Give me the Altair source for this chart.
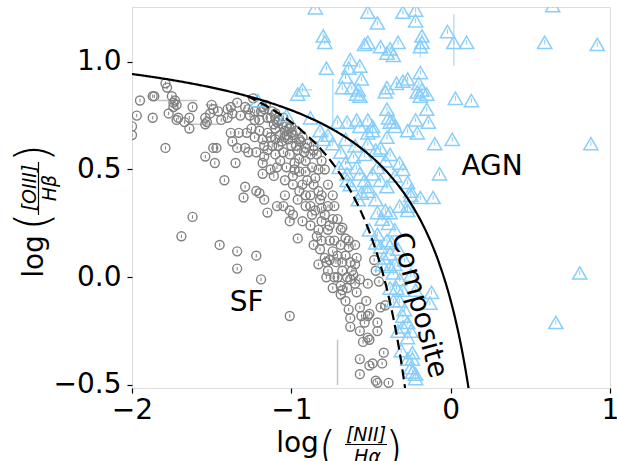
import altair as alt
import numpy as np
import pandas as pd

# ---- star-forming galaxies (grey circles) ----
sf_x = [-2.00, -2.00, -1.97, -1.95, -1.87, -1.87, -1.86, -1.79, -1.78, -1.79, -1.77, -1.75, -1.74, -1.73, -1.72, -1.74,
        -1.71, -1.72, -1.67, -1.64, -1.64, -1.62, -1.69, -1.62,
        -1.54, -1.53, -1.54, -1.51, -1.50, -1.49, -1.49, -1.47, -1.54, -1.48, -1.45,
        -1.46, -1.44, -1.40, -1.40, -1.38, -1.37, -1.34, -1.38, -1.33, -1.37, -1.34, -1.35, -1.42, -1.34, -1.34,
        -1.32, -1.29, -1.27, -1.26, -1.28, -1.25, -1.23, -1.20, -1.29, -1.27, -1.22, -1.18, -1.17, -1.29, -1.20, -1.22,
        -1.30, -1.22, -1.19,
        -1.18, -1.13, -1.11, -1.09, -1.15, -1.13, -1.17, -1.15, -1.09, -1.05, -1.01, -0.99, -1.01, -0.96, -1.01,
        -0.78, -0.71, -0.74, -0.68, -0.65, -0.63, -0.60, -0.57, -0.64, -0.63, -0.57, -0.56, -0.54, -0.52, -0.51, -0.46,
        -0.63, -0.57, -0.52, -0.51, -0.46, -0.55, -0.44, -0.41, -0.45, -0.47, -0.48, -0.57, -0.51, -0.49, -0.42, -0.43,
        -0.57, -0.47, -0.46, -0.39,
        -1.10, -1.07, -1.04, -1.08, -1.02, -1.00, -0.97, -1.05, -1.01, -0.96, -0.93, -0.91, -1.07, -1.03, -0.98, -0.95,
        -0.91, -0.88, -0.87, -1.04, -0.99, -0.95, -0.90, -0.85, -0.83, -0.96, -0.91, -0.88, -0.85, -0.82, -0.79, -0.93,
        -0.88, -0.83, -0.81, -0.77, -0.76, -0.86, -0.82, -0.79, -0.74, -0.72, -0.69, -0.83, -0.77, -0.73, -0.68, -0.66,
        -1.03, -1.08, -0.99, -0.94, -0.90, -0.86, -1.00, -0.81, -0.79, -0.77, -0.74, -0.73, -0.71, -0.69, -0.66, -0.64,
        -0.63, -0.62, -0.60, -0.84, -1.10, -1.03, -1.05, -1.13, -1.17, -1.20, -1.12, -1.16, -1.24,
        -1.12, -1.15, -1.06, -1.00, -0.95, -0.91, -0.86, -0.81, -0.77, -0.74, -0.81, -0.76, -0.71, -0.99, -0.93, -0.97,
        -1.10, -1.18, -1.23, -1.19, -1.09, -0.86, -0.83, -0.88, -0.68, -0.65, -0.60, -0.69, -0.59, -0.52, -0.53, -0.66,
        -1.23, -1.18, -1.15, -1.11, -1.08, -1.04, -1.01, -1.06, -1.10, -1.17, -0.95, -0.92, -0.98, -1.04, -0.91, -0.87,
        -0.81, -0.76, -0.84, -0.73, -0.78, -0.68, -0.64, -0.59, -0.61, -0.69]
sf_y = [0.70, 0.66, 0.75, 0.82, 0.74, 0.84, 0.84, 0.90, 0.88, 0.60, 0.76, 0.84, 0.81, 0.82, 0.80, 0.79,
        0.74, 0.73, 0.72, 0.74, 0.69, 0.79, 0.19, 0.28,
        0.74, 0.72, 0.71, 0.76, 0.80, 0.78, 0.60, 0.60, 0.56, 0.53, 0.15,
        0.77, 0.73, 0.78, 0.74, 0.79, 0.76, 0.81, 0.67, 0.67, 0.63, 0.60, 0.53, 0.45, 0.12, 0.04,
        0.75, 0.79, 0.78, 0.75, 0.67, 0.69, 0.65, 0.68, 0.60, 0.58, 0.58, 0.53, 0.56, 0.42, 0.39, 0.40,
        0.37, 0.10, -0.01,
        0.48, 0.50, 0.47, 0.51, 0.67, 0.65, 0.36, 0.30, 0.33, 0.33, 0.31, 0.29, 0.26, 0.18, -0.18,
        0.00, 0.00, -0.05, -0.06, -0.05, -0.01, -0.03, -0.01, -0.15, -0.19, -0.14, -0.18, -0.21, -0.18, -0.17, -0.21,
        -0.23, -0.25, -0.28, -0.29, -0.25, -0.30, -0.14, -0.13, -0.02, 0.03, 0.08, -0.38, -0.41, -0.40, -0.35, -0.40,
        -0.45, -0.48, -0.49, -0.49,
        0.69, 0.66, 0.68, 0.61, 0.64, 0.67, 0.61, 0.58, 0.57, 0.59, 0.65, 0.60, 0.54, 0.51, 0.53, 0.49,
        0.54, 0.57, 0.51, 0.45, 0.43, 0.40, 0.45, 0.46, 0.40, 0.36, 0.33, 0.38, 0.31, 0.36, 0.29, 0.26,
        0.24, 0.22, 0.26, 0.22, 0.17, 0.15, 0.13, 0.09, 0.12, 0.07, 0.15, 0.06, 0.03, 0.00, 0.03, 0.10,
        0.70, 0.73, 0.66, 0.63, 0.62, 0.61, 0.70, 0.54, 0.50, 0.43, 0.38, 0.33, 0.27, 0.22, 0.18, 0.14,
        0.07, 0.03, 0.15, 0.57, 0.76, 0.66, 0.74, 0.74, 0.78, 0.73, 0.77, 0.80, 0.83,
        0.61, 0.59, 0.71, 0.61, 0.55, 0.49, 0.43, 0.38, 0.33, 0.27, 0.17, 0.08, 0.10, 0.47, 0.43, 0.68,
        0.64, 0.64, 0.73, 0.77, 0.72, 0.59, 0.50, 0.33, 0.23, 0.00, 0.06, -0.04, -0.07, -0.03, -0.11, -0.11,
        0.77, 0.79, 0.74, 0.71, 0.73, 0.65, 0.69, 0.63, 0.57, 0.61, 0.64, 0.58, 0.50, 0.38, 0.38, 0.29,
        0.32, 0.24, 0.19, 0.17, 0.07, 0.07, 0.17, 0.09, 0.01, -0.08]

# ---- composite / AGN (light blue triangles) ----
agn_x = [-0.85, -0.52, -0.30, -0.22, -0.22, -0.46, 0.64, -0.80, -0.79, -0.52, -0.54, -0.44, -0.38, -0.33, -0.36, -0.40,
         -0.18, -0.19, -0.18, -0.02, 0.02, 0.10, 0.59, 0.92, -0.78, -0.63, -0.64, -0.57, -0.66, -0.68, -0.62, -0.58,
         -0.56, -0.57, -0.59, -0.93, -0.40, -0.41, -0.34, -0.30, -0.27, -0.20, -0.19, -0.21, -0.18, -0.15, -0.19, 0.03,
         0.13, -0.40, -0.39, -0.38, -0.36, -0.35, -0.22, -0.27, -0.21, -0.14, -0.15, -0.10, 0.01, 0.88, -0.40, -0.49,
         -0.52, -0.52, -0.52, -0.49, -0.71, -0.65, -0.59, -0.57, -0.88, -0.82, -0.77, -0.74, -0.80, -0.32, -0.30, -0.27,
         -0.25, -0.07, -0.69, -0.66, -0.61, -0.59, -0.57, -0.54, -0.52, -0.49, -0.46, -0.44, -0.40, -0.65, -0.70, -0.65,
         -1.21, -1.03, -0.96, 0.81, 0.66, -0.44, -0.38, -0.41,
         -0.56, -0.52, -0.25, -0.19, -0.11, -0.27, -0.27, -0.46, -0.38, -0.43, -0.39, -0.51, -0.46, -0.40, -0.37, -0.47,
         -0.44, -0.38, -0.42, -0.38, -0.36, -0.32, -0.34, -0.30, -0.38, -0.12, -0.13, -0.32, -0.29, -0.30, -0.27, -0.30,
         -0.25, -0.27, -0.24, -0.24, -0.25, -0.24, -0.22, -0.22, -0.35, -0.33, -0.29, -0.25, -0.22,
         -0.66, -0.60, -0.54, -0.47, -0.63, -0.58, -0.47, -0.35, -0.32, -0.41, -0.43, -0.35, -0.36, -0.33, -0.31, -0.27]
agn_y = [1.25, 1.23, 1.23, 1.24, 1.19, 1.18, 1.26, 1.12, 1.09, 1.09, 1.08, 1.07, 1.06, 1.09, 1.03, 1.04,
         1.09, 1.07, 1.12, 1.14, 1.09, 1.09, 1.09, 1.08, 0.97, 1.01, 0.97, 0.98, 0.93, 0.88, 0.88, 0.87,
         0.92, 0.84, 0.85, 0.87, 0.88, 0.86, 0.90, 0.91, 0.92, 0.90, 0.95, 0.86, 0.87, 0.85, 0.84, 0.83,
         0.82, 0.78, 0.74, 0.72, 0.72, 0.70, 0.73, 0.68, 0.67, 0.72, 0.78, 0.62, 0.64, 0.62, 0.65, 0.68,
         0.67, 0.62, 0.73, 0.70, 0.72, 0.72, 0.73, 0.70, 0.74, 0.68, 0.66, 0.62, 0.64, 0.53, 0.50, 0.44,
         0.40, 0.48, 0.58, 0.53, 0.56, 0.51, 0.48, 0.45, 0.42, 0.48, 0.51, 0.45, 0.42, 0.48, 0.51, 0.45,
         0.82, 0.75, 0.85, 0.02, -0.21, 0.60, 0.57, 0.54,
         0.39, 0.40, 0.38, 0.37, 0.37, 0.33, 0.31, 0.30, 0.30, 0.27, 0.25, 0.22, 0.20, 0.17, 0.16, 0.16,
         0.14, 0.11, 0.09, 0.05, 0.02, -0.01, -0.05, -0.06, -0.05, -0.07, -0.12, -0.11, -0.15, -0.18, -0.21, -0.23,
         -0.25, -0.28, -0.35, -0.38, -0.42, -0.44, -0.45, -0.47, 0.22, 0.13, 0.08, 0.01, -0.06,
         0.64, 0.61, 0.57, 0.59, 0.43, 0.36, 0.36, 0.47, 0.33, 0.31, 0.06, 0.06, -0.11, -0.25, -0.34, -0.38]

# ---- the larger error bars that stand out ----
sf_err_x1 = [-1.84, -1.65, -1.54, -1.21, -0.71]
sf_err_x2 = [-1.59, -1.45, -1.46, -1.21, -0.71]
sf_err_y1 = [0.82, 0.71, 0.80, 0.80, -0.29]
sf_err_y2 = [0.82, 0.71, 0.80, 0.70, -0.50]
agn_err_x1 = [-0.74, 0.02, -0.96, -0.19]
agn_err_x2 = [-0.74, 0.02, -0.87, -0.19]
agn_err_y1 = [0.92, 1.22, 0.87, 1.10]
agn_err_y2 = [0.68, 0.98, 0.87, 1.02]

# ---- demarcation lines: Kewley et al. 2001 (solid), Kauffmann et al. 2003 (dashed) ----
KEW_A, KEW_B, KEW_C = 0.61, 0.47, 1.19
KAU_A, KAU_B, KAU_C = 0.61, 0.05, 1.30
kew_x = np.linspace(-2.0, 0.12, 300)
kau_x = np.linspace(-1.28, -0.28, 200)
kew_df = pd.DataFrame({"x": kew_x, "y": KEW_A / (kew_x - KEW_B) + KEW_C})
kau_df = pd.DataFrame({"x": kau_x, "y": KAU_A / (kau_x - KAU_B) + KAU_C})

region_labels = ["SF", "AGN", "Composite"]
region_x = [-1.28, 0.26, -0.20]
region_y = [-0.12, 0.51, -0.13]
region_angle = [0, 0, 75]

FONT = "DejaVu Sans"
GREY = "#808080"
BLUE = "#87CEFA"

xs = alt.Scale(domain=[-2, 1], nice=False, zero=False)
ys = alt.Scale(domain=[-0.514, 1.254], nice=False, zero=False)
xaxis = alt.Axis(values=[-2, -1, 0, 1], format="d", title="", grid=False, domain=False,
                 labelFontSize=28, labelFont=FONT, labelColor="black", tickColor="black",
                 tickSize=5, tickWidth=1.2, labelPadding=3, labelFlush=False)
yaxis = alt.Axis(values=[-0.5, 0.0, 0.5, 1.0], format=".1f", title="", grid=False, domain=False,
                 labelFontSize=28, labelFont=FONT, labelColor="black", tickColor="black",
                 tickSize=5, tickWidth=1.2, labelPadding=6, labelFlush=False)

sf_df = pd.DataFrame({"x": sf_x, "y": sf_y})
agn_df = pd.DataFrame({"x": agn_x, "y": agn_y})
sf_err = pd.DataFrame({"x": sf_err_x1, "x2": sf_err_x2, "y": sf_err_y1, "y2": sf_err_y2})
agn_err = pd.DataFrame({"x": agn_err_x1, "x2": agn_err_x2, "y": agn_err_y1, "y2": agn_err_y2})

def pts(df):
    return alt.Chart(df).encode(x=alt.X("x:Q", scale=xs, axis=xaxis), y=alt.Y("y:Q", scale=ys, axis=yaxis))

sf_errbars = alt.Chart(sf_err).mark_rule(color="#c4c4c4", strokeWidth=1.5, clip=True).encode(
    x=alt.X("x:Q", scale=xs, axis=xaxis), x2="x2:Q", y=alt.Y("y:Q", scale=ys, axis=yaxis), y2="y2:Q")
agn_errbars = alt.Chart(agn_err).mark_rule(color="#b5e0fb", strokeWidth=1.5, clip=True).encode(
    x=alt.X("x:Q", scale=xs, axis=xaxis), x2="x2:Q", y=alt.Y("y:Q", scale=ys, axis=yaxis), y2="y2:Q")

sf_pts = pts(sf_df).mark_point(shape="circle", filled=False, color=GREY, size=80, strokeWidth=1.4,
                               opacity=1, clip=True)
sf_tick = pts(sf_df).mark_point(shape="M0,-1L0,1", filled=False, color=GREY, size=12, strokeWidth=1,
                                opacity=1, clip=True)
agn_pts = pts(agn_df).mark_point(shape="triangle-up", filled=False, color=BLUE, size=200, strokeWidth=1.5,
                                 opacity=1, clip=True)
agn_tick = pts(agn_df).mark_point(shape="M0,-1L0,1", filled=False, color=BLUE, size=20, strokeWidth=1,
                                  opacity=1, clip=True)

kew = alt.Chart(kew_df).mark_line(color="black", strokeWidth=2.2, clip=True).encode(
    x=alt.X("x:Q", scale=xs, axis=xaxis), y=alt.Y("y:Q", scale=ys, axis=yaxis))
kau = alt.Chart(kau_df).mark_line(color="black", strokeWidth=2.2, strokeDash=[10, 5], clip=True).encode(
    x=alt.X("x:Q", scale=xs, axis=xaxis), y=alt.Y("y:Q", scale=ys, axis=yaxis))

lab_df = pd.DataFrame({"t": region_labels, "x": region_x, "y": region_y, "a": region_angle})
labels = alt.Chart(lab_df).mark_text(fontSize=28, font=FONT, color="black", align="center",
                                     baseline="middle").encode(
    x=alt.X("x:Q", scale=xs, axis=xaxis), y=alt.Y("y:Q", scale=ys, axis=yaxis), text="t:N",
    angle=alt.Angle("a:Q", scale=None))

one = pd.DataFrame({"k": [0]})

def txt(s, x, y, size, angle=0, style="normal", baseline="alphabetic", weight=400):
    return alt.Chart(one).mark_text(text=s, fontSize=size, font=FONT, fontStyle=style, color="black",
                                    align="center", baseline=baseline, angle=angle,
                                    fontWeight=weight).encode(
        x=alt.value(x), y=alt.value(y))

def bar(x1, x2, y1, y2):
    return alt.Chart(one).mark_rule(color="black", strokeWidth=1.2).encode(
        x=alt.value(x1), x2=alt.value(x2), y=alt.value(y1), y2=alt.value(y2))

# x-axis title:  log( [NII] / Hα )
xt = [
    txt("log", 165.5, 445, 28),
    txt("(", 195.5, 443, 46, baseline="middle", weight=200),
    txt("[NII]", 234, 434, 19, style="italic"),
    bar(213, 255, 437.5, 437.5),
    txt("Hα", 235.5, 456, 19, style="italic"),
    txt(")", 262, 443, 46, baseline="middle", weight=200),
]
# y-axis title:  log( [OIII] / Hβ ), rotated
yt = [
    txt("log", -89, 249.5, 28, angle=270),
    txt("(", -98, 214.5, 46, angle=270, baseline="middle", weight=200),
    txt("[OIII]", -96, 181, 19, angle=270, style="italic"),
    bar(-93.5, -93.5, 155, 208),
    txt("Hβ", -76, 181, 19, angle=270, style="italic"),
    txt(")", -98, 146, 46, angle=270, baseline="middle", weight=200),
]

chart = alt.layer(sf_errbars, sf_pts, sf_tick, agn_errbars, agn_pts, agn_tick, kew, kau, labels, *xt, *yt).properties(
    width=478, height=381,
    autosize=alt.AutoSizeParams(type="none"),
    padding={"left": 132, "top": 7, "right": 7, "bottom": 73},
).configure_view(stroke="black", strokeWidth=1.3).configure(background="white")

chart.save("out.html", embed_options={"renderer": "svg", "actions": False})
